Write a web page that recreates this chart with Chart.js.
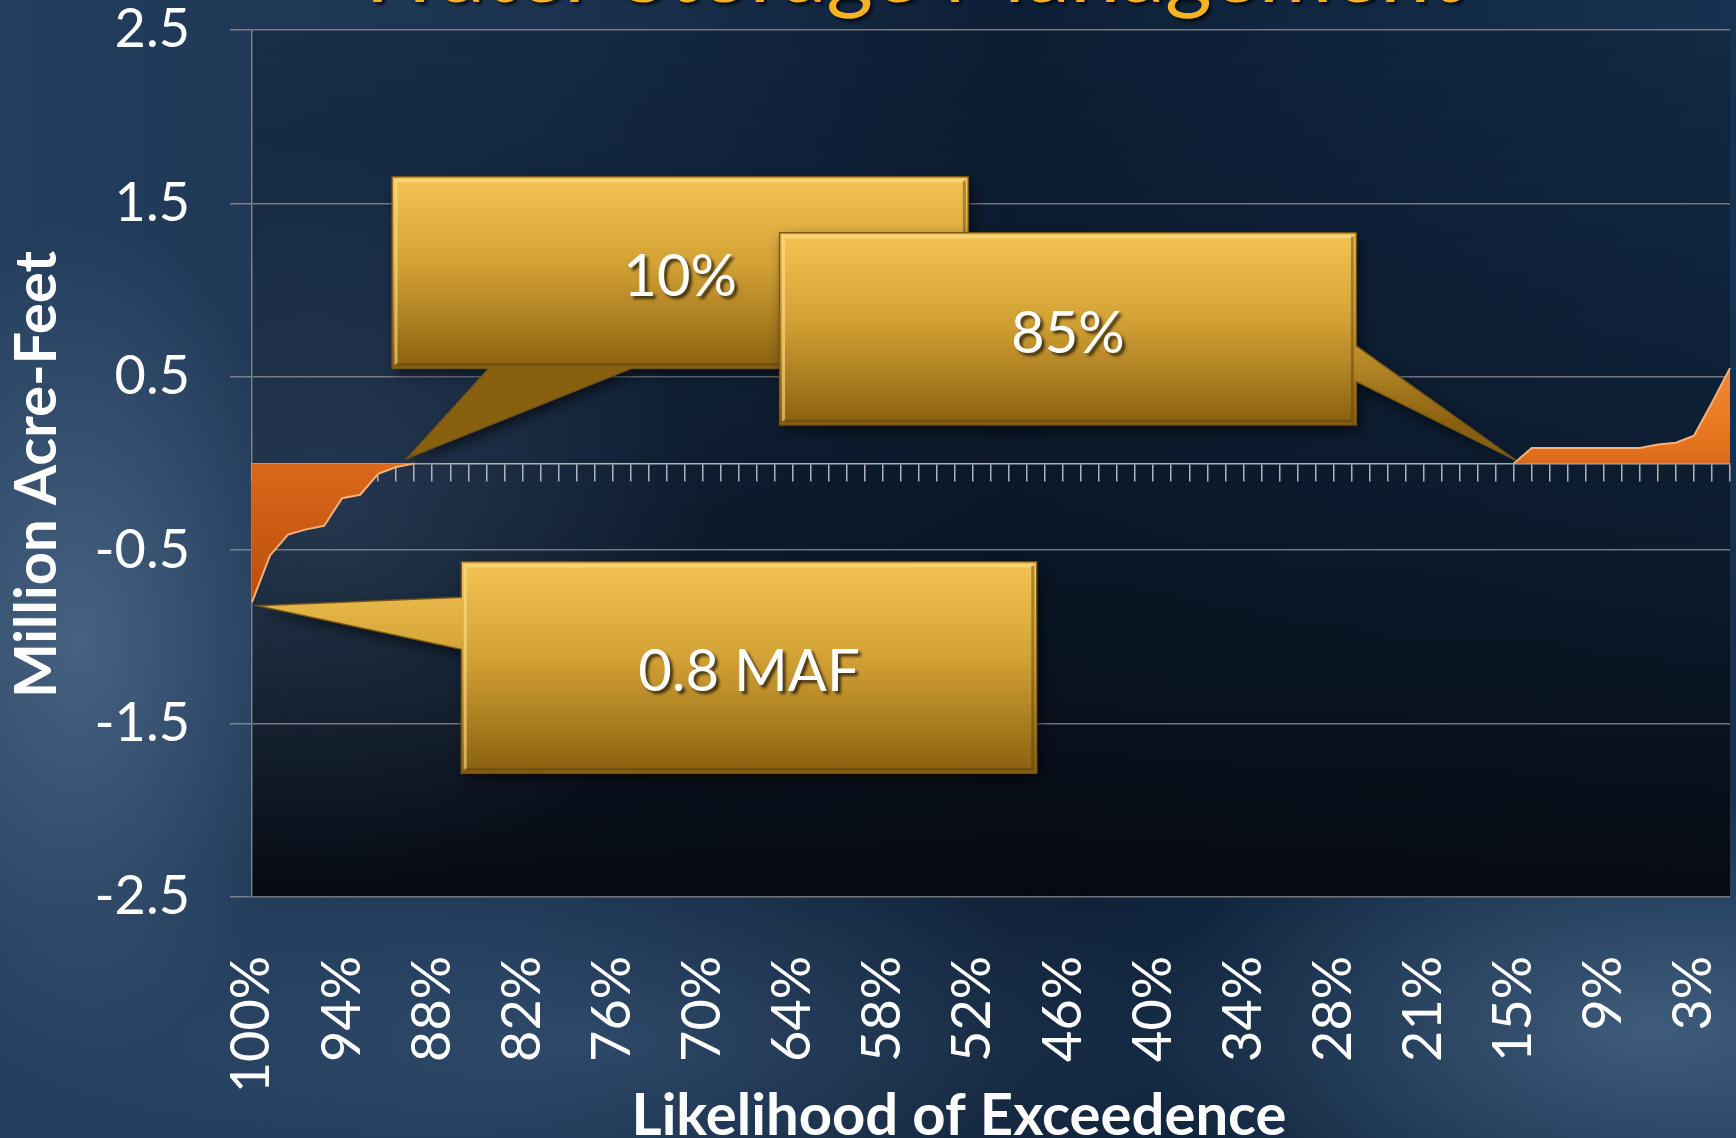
<!DOCTYPE html>
<html>
<head>
<meta charset="utf-8">
<title>Storage change by likelihood of exceedence</title>
<script src="https://cdn.jsdelivr.net/npm/chart.js@4.4.1/dist/chart.umd.min.js"></script>
<style>
  html, body { margin: 0; padding: 0; }
  body {
    width: 1736px;
    height: 1138px;
    overflow: hidden;
    background:
      radial-gradient(ellipse 240px 420px at 80px 640px, rgba(100,128,160,0.55), rgba(100,128,160,0) 100%),
      radial-gradient(ellipse 520px 240px at 1650px 1030px, rgba(105,135,170,0.5), rgba(105,135,170,0) 100%),
      radial-gradient(ellipse 700px 200px at 600px 1040px, rgba(70,100,135,0.45), rgba(70,100,135,0) 100%),
      linear-gradient(90deg, #243d5c 0%, #1c3452 30%, #0d1f35 58%, #163250 100%);
  }
  #wrap { position: relative; width: 1736px; height: 1138px; }
</style>
</head>
<body>
<div id="wrap"><canvas id="chart" width="1736" height="1138"></canvas></div>
<script>
//------Data------

const pageTitle = 'Water Storage Management';
const xTitle = 'Likelihood of Exceedence';
const yTitle = 'Million Acre-Feet';

// x categories (likelihood of exceedence), one per year of record
const exceedence = [
  '100%', '99%', '98%', '96%', '95%', '94%', '93%', '92%', '90%', '89%',
  '88%', '87%', '86%', '84%', '83%', '82%', '81%', '79%', '78%', '77%',
  '76%', '75%', '73%', '72%', '71%', '70%', '69%', '67%', '66%', '65%',
  '64%', '63%', '61%', '60%', '59%', '58%', '57%', '55%', '54%', '53%',
  '52%', '50%', '49%', '48%', '47%', '46%', '44%', '43%', '42%', '41%',
  '40%', '38%', '37%', '36%', '35%', '34%', '32%', '31%', '30%', '29%',
  '28%', '26%', '25%', '24%', '23%', '21%', '20%', '19%', '18%', '17%',
  '15%', '14%', '13%', '12%', '11%', '9%', '8%', '7%', '6%', '5%',
  '3%', '2%', '1%'
];

// change in storage, million acre-feet
const storageChange = [
  -0.80, -0.53, -0.41, -0.38, -0.36, -0.20, -0.18, -0.06, -0.02, 0,
  0, 0, 0, 0, 0, 0, 0, 0, 0, 0,
  0, 0, 0, 0, 0, 0, 0, 0, 0, 0,
  0, 0, 0, 0, 0, 0, 0, 0, 0, 0,
  0, 0, 0, 0, 0, 0, 0, 0, 0, 0,
  0, 0, 0, 0, 0, 0, 0, 0, 0, 0,
  0, 0, 0, 0, 0, 0, 0, 0, 0, 0,
  0, 0.09, 0.09, 0.09, 0.09, 0.09, 0.09, 0.09, 0.11, 0.12,
  0.16, 0.35, 0.55
];

const yTicks = [-2.5, -1.5, -0.5, 0.5, 1.5, 2.5];
const labelEvery = 5;

// callouts, placed in data units (category index, MAF)
const callouts = [
  { text: '10%', box: [7.77, 39.74, 1.654, 0.548], edge: 'bottom', base: [13.14, 21.03], tip: [8.6, 0.03] },
  { text: '85%', box: [29.27, 61.27, 1.331, 0.222], edge: 'right', base: [0.678, 0.472], tip: [70.1, 0.02] },
  { text: '0.8 MAF', box: [11.61, 43.54, -0.566, -1.787], edge: 'left', base: [-0.772, -1.072], tip: [0.3, -0.82] }
];
//--------------


//---Drawing helpers
const gridColor = 'rgba(150,150,155,0.75)';
const axisColor = 'rgba(195,195,200,0.9)';

function areaFill(context) {
  const { ctx, chartArea, scales } = context.chart;
  if (!chartArea) return '#d9651a';
  const y = scales.y;
  const g = ctx.createLinearGradient(0, y.getPixelForValue(0.6), 0, y.getPixelForValue(-0.85));
  g.addColorStop(0, '#f28a38');
  g.addColorStop(0.3, '#e8761f');
  g.addColorStop(0.45, '#d8661a');
  g.addColorStop(1, '#b84c0a');
  return g;
}

function drawCallout(chart, c) {
  const { ctx, scales: { x, y } } = chart;
  const L = x.getPixelForValue(c.box[0]);
  const R = x.getPixelForValue(c.box[1]);
  const T = y.getPixelForValue(c.box[2]);
  const B = y.getPixelForValue(c.box[3]);
  const tx = x.getPixelForValue(c.tip[0]);
  const ty = y.getPixelForValue(c.tip[1]);

  ctx.save();
  ctx.beginPath();
  ctx.moveTo(L, T);
  ctx.lineTo(R, T);
  if (c.edge === 'right') {
    ctx.lineTo(R, y.getPixelForValue(c.base[0]));
    ctx.lineTo(tx, ty);
    ctx.lineTo(R, y.getPixelForValue(c.base[1]));
  }
  ctx.lineTo(R, B);
  if (c.edge === 'bottom') {
    ctx.lineTo(x.getPixelForValue(c.base[1]), B);
    ctx.lineTo(tx, ty);
    ctx.lineTo(x.getPixelForValue(c.base[0]), B);
  }
  ctx.lineTo(L, B);
  if (c.edge === 'left') {
    ctx.lineTo(L, y.getPixelForValue(c.base[1]));
    ctx.lineTo(tx, ty);
    ctx.lineTo(L, y.getPixelForValue(c.base[0]));
  }
  ctx.closePath();

  const g = ctx.createLinearGradient(0, T, 0, B);
  g.addColorStop(0, '#f4c454');
  g.addColorStop(0.45, '#d3a236');
  g.addColorStop(1, '#89600f');
  ctx.fillStyle = g;
  ctx.shadowColor = 'rgba(0,0,0,0.6)';
  ctx.shadowBlur = 14;
  ctx.shadowOffsetX = 4;
  ctx.shadowOffsetY = 6;
  ctx.fill();
  ctx.shadowColor = 'transparent';
  ctx.lineWidth = 1.5;
  ctx.strokeStyle = 'rgba(115,85,25,0.95)';
  ctx.stroke();

  // bevel
  ctx.lineWidth = 3;
  ctx.strokeStyle = 'rgba(255,225,140,0.6)';
  ctx.beginPath();
  ctx.moveTo(L + 4, B - 4);
  ctx.lineTo(L + 4, T + 4);
  ctx.lineTo(R - 4, T + 4);
  ctx.stroke();
  ctx.strokeStyle = 'rgba(90,60,10,0.45)';
  ctx.beginPath();
  ctx.moveTo(R - 4, T + 4);
  ctx.lineTo(R - 4, B - 4);
  ctx.lineTo(L + 4, B - 4);
  ctx.stroke();

  // text
  ctx.font = '58px Lato';
  ctx.textAlign = 'center';
  ctx.textBaseline = 'middle';
  ctx.shadowColor = 'rgba(0,0,0,0.65)';
  ctx.shadowBlur = 3;
  ctx.shadowOffsetX = 3;
  ctx.shadowOffsetY = 3;
  ctx.fillStyle = '#ffffff';
  ctx.fillText(c.text, (L + R) / 2, (T + B) / 2 + 5);
  ctx.restore();
}

function drawAxisTitles(chart) {
  const { ctx, chartArea: a } = chart;
  ctx.save();
  ctx.font = 'bold 58px Lato';
  ctx.fillStyle = '#ffffff';
  ctx.textAlign = 'center';
  ctx.textBaseline = 'middle';
  // x title sits a little left of the plot centre, as on the slide
  ctx.fillText(xTitle, (a.left + a.right) / 2 - 32, chart.height - 22);
  ctx.translate(37, (a.top + a.bottom) / 2 + 11);
  ctx.rotate(-Math.PI / 2);
  ctx.fillText(yTitle, 0, 0);
  ctx.restore();
}

const decorPlugin = {
  id: 'decor',
  beforeDraw(chart) {
    const { ctx, chartArea: a } = chart;
    ctx.save();
    // plot area backdrop
    const g = ctx.createLinearGradient(0, a.top, 0, a.bottom);
    g.addColorStop(0, 'rgba(10,26,46,0.35)');
    g.addColorStop(0.5, 'rgba(10,22,38,0.7)');
    g.addColorStop(1, 'rgba(6,9,15,0.97)');
    ctx.fillStyle = g;
    ctx.fillRect(a.left, a.top, a.right - a.left, a.bottom - a.top);
    const r = ctx.createRadialGradient(a.left + 80, a.top + 480, 10, a.left + 80, a.top + 480, 380);
    r.addColorStop(0, 'rgba(75,100,130,0.35)');
    r.addColorStop(1, 'rgba(75,100,130,0)');
    ctx.fillStyle = r;
    ctx.fillRect(a.left, a.top, a.right - a.left, a.bottom - a.top);

    // slide title, mostly above the visible area
    ctx.font = '90px Lato';
    ctx.textAlign = 'center';
    ctx.textBaseline = 'alphabetic';
    ctx.shadowColor = 'rgba(0,0,0,0.6)';
    ctx.shadowOffsetX = 3;
    ctx.shadowOffsetY = 3;
    ctx.shadowBlur = 3;
    ctx.fillStyle = '#f6b221';
    ctx.fillText(pageTitle, 907, 2);
    ctx.restore();
  },
  afterDraw(chart) {
    drawAxisTitles(chart);
    callouts.forEach((c) => drawCallout(chart, c));
  }
};
//----------------


//---Chart js---
const ctx = document.getElementById('chart').getContext('2d');

new Chart(ctx, {
  type: 'line',
  data: {
    labels: exceedence,
    datasets: [
      {
        data: storageChange,
        fill: 'origin',
        backgroundColor: areaFill,
        borderColor: '#f7b07a',
        borderWidth: 2,
        pointRadius: 0,
        tension: 0,
        segment: {
          borderColor: (c) => (c.p0.parsed.y === 0 && c.p1.parsed.y === 0 ? 'rgba(0,0,0,0)' : undefined)
        }
      }
    ]
  },
  options: {
    responsive: false,
    animation: false,
    devicePixelRatio: 1,
    layout: {
      padding: { top: 30, right: 6, bottom: 0, left: 0 }
    },
    plugins: {
      legend: { display: false },
      tooltip: { enabled: false }
    },
    scales: {
      x: {
        type: 'category',
        offset: false,
        grid: { display: false, drawTicks: false },
        border: { display: false },
        ticks: {
          autoSkip: false,
          minRotation: 90,
          maxRotation: 90,
          padding: 59,
          color: '#ffffff',
          font: { family: 'Lato', size: 54 },
          callback: (value, index) => (index % labelEvery === 0 ? exceedence[index] : '')
        },
        afterFit: (scale) => {
          scale.height = 241;
          scale.paddingLeft = 0;
          scale.paddingRight = 0;
        }
      },
      x2: {
        type: 'category',
        position: { y: 0 },
        offset: false,
        z: 1,
        grid: {
          drawOnChartArea: false,
          drawTicks: true,
          tickLength: 17,
          color: axisColor,
          lineWidth: 1.5
        },
        border: { display: true, color: axisColor, width: 1.5 },
        ticks: { display: false, autoSkip: false },
        afterFit: (scale) => {
          scale.paddingLeft = 0;
          scale.paddingRight = 0;
        }
      },
      y: {
        min: yTicks[0],
        max: yTicks[yTicks.length - 1],
        afterBuildTicks: (scale) => {
          scale.ticks = yTicks.map((v) => ({ value: v }));
        },
        ticks: {
          padding: 40,
          color: '#ffffff',
          font: { family: 'Lato', size: 54, lineHeight: 1 }
        },
        grid: { color: gridColor, lineWidth: 1.5, tickLength: 22 },
        border: { color: gridColor, width: 1.5 },
        afterFit: (scale) => {
          scale.width = 252;
          scale.paddingTop = 0;
          scale.paddingBottom = 0;
        }
      }
    }
  },
  plugins: [decorPlugin]
});
//-----------------------
</script>
</body>
</html>
